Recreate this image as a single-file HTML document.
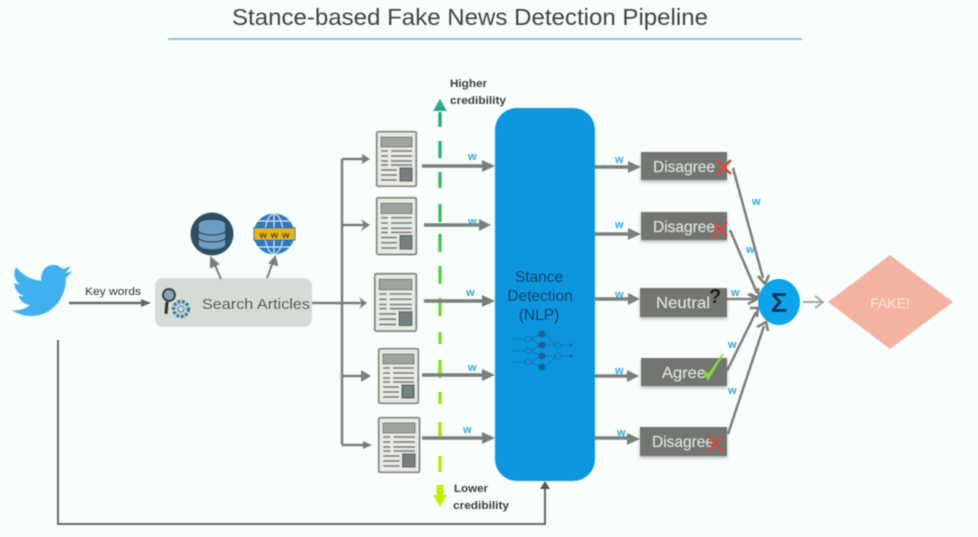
<!DOCTYPE html>
<html><head><meta charset="utf-8"><style>
html,body{margin:0;padding:0;background:#f8fefb;width:978px;height:537px;overflow:hidden}
svg{display:block}
text{font-family:"Liberation Sans",sans-serif}
</style></head><body>
<svg width="978" height="537" viewBox="0 0 978 537" xmlns="http://www.w3.org/2000/svg">
<defs>
<filter id="b" x="-5%" y="-5%" width="110%" height="110%"><feGaussianBlur stdDeviation="0.65"/></filter>
<filter id="s" x="-10%" y="-20%" width="120%" height="150%"><feDropShadow dx="0" dy="2" stdDeviation="1.5" flood-color="#888" flood-opacity=".6"/></filter>
<linearGradient id="g" x1="0" y1="100" x2="0" y2="507" gradientUnits="userSpaceOnUse"><stop offset="0" stop-color="#2ea58c"/><stop offset=".3" stop-color="#4cbb6a"/><stop offset=".55" stop-color="#7ed63a"/><stop offset="1" stop-color="#c0f000"/></linearGradient>
<g id="doc">
<rect x="0.75" y="0.75" width="39.5" height="54.5" rx="1.5" fill="#e8ebe5" stroke="#84887f" stroke-width="1.8"/>
<rect x="5" y="6" width="31" height="10" fill="#a0a49f" stroke="#6e726e" stroke-width=".9"/>
<g stroke="#7e817e" stroke-width="1.7"><path d="M5 20H12M15 20H36M5 25H12M15 25H36M5 30H12M15 30H36M5 34H12M15 34H36M5 39H21M5 44H21M5 49H21"/></g>
<rect x="24" y="37" width="12" height="13" fill="#758080" stroke="#5e6262" stroke-width="1.2"/>
</g>
</defs>
<rect width="978" height="537" fill="#f8fefb"/>
<g filter="url(#b)">
<text x="232" y="25" font-size="23" fill="#3c4442" textLength="476" lengthAdjust="spacingAndGlyphs">Stance-based Fake News Detection Pipeline</text>
<rect x="168" y="38" width="634" height="2" fill="#88bbe2"/>

<!-- twitter -->
<path transform="translate(12 259) scale(2.5 2.62)" d="M23.953 4.57a10 10 0 01-2.825.775 4.958 4.958 0 002.163-2.723c-.951.555-2.005.959-3.127 1.184a4.92 4.92 0 00-8.384 4.482C7.69 8.095 4.067 6.13 1.64 3.162a4.822 4.822 0 00-.666 2.475c0 1.71.87 3.213 2.188 4.096a4.904 4.904 0 01-2.228-.616v.06a4.923 4.923 0 003.946 4.827 4.996 4.996 0 01-2.212.085 4.936 4.936 0 004.604 3.417 9.867 9.867 0 01-6.102 2.105c-.39 0-.779-.023-1.17-.067a13.995 13.995 0 007.557 2.209c9.053 0 13.998-7.496 13.998-13.985 0-.21 0-.42-.015-.63A9.935 9.935 0 0024 4.59z" fill="#3fb0ee"/>

<!-- key words -->
<text x="85" y="295" font-size="11" fill="#333" textLength="56" lengthAdjust="spacingAndGlyphs">Key words</text>
<path d="M69 303H143" stroke="#636b66" stroke-width="2.500" fill="none"/><path d="M141 299L151 303L141 307z" fill="#636b66"/>

<!-- search box -->
<rect x="155" y="278" width="157" height="49" rx="8" fill="#d6dbd5"/>
<text x="202" y="309" font-size="15" fill="#36403f" textLength="108" lengthAdjust="spacingAndGlyphs">Search Articles</text>
<circle cx="169" cy="295" r="6" fill="#8ea4b5" stroke="#23404f" stroke-width="2.200"/>
<path d="M167 302L166 314" stroke="#333" stroke-width="3.500"/>
<circle cx="181" cy="309" r="7.500" fill="#c0d5df" stroke="#2f7a9c" stroke-width="3.500" stroke-dasharray="3 1.500"/>
<circle cx="181" cy="309" r="3" fill="#d6dbd5" stroke="#2f7a9c"/>

<!-- db & www -->
<circle cx="212" cy="234" r="21.500" fill="#2f4f62"/>
<path d="M199 224a13 4 0 0 1 26 0v21a13 4 0 0 1-26 0z" fill="#6d9cc4"/>
<path d="M199 231a13 4 0 0 0 26 0M199 238a13 4 0 0 0 26 0" stroke="#2f4f62" stroke-width="1.500" fill="none"/>
<circle cx="274" cy="234" r="20.500" fill="#2a7bc0"/>
<g fill="none" stroke="#cfe3f0" stroke-width="1"><ellipse cx="274" cy="234" rx="9" ry="20"/><path d="M274 214V254M258 221H290M258 247H290"/></g>
<rect x="254" y="228" width="41" height="12" fill="#e4b512" stroke="#2a6a90"/>
<text x="274.500" y="238" font-size="9.500" font-weight="bold" fill="#333" text-anchor="middle" textLength="30">www</text>
<g stroke="#7a7f7b" stroke-width="2" fill="#7a7f7b">
<path d="M221 279L214 263" fill="none"/><path d="M211 258L218 264L211 267z"/>
<path d="M267 278L273 262" fill="none"/><path d="M275 257L277 265L270 263z"/>
</g>

<!-- tree connectors -->
<g stroke="#7a7f7b" stroke-width="2.500" fill="none">
<path d="M312 303H342"/>
<path d="M342 159V445"/>
<path d="M342 159H365"/>
<path d="M342 225H366"/>
<path d="M342 303H364"/>
<path d="M342 376H368"/>
<path d="M342 445H368"/>
</g>
<g fill="#7a7f7b">
<path d="M362 154L370 159L362 164z"/>
<path d="M361 219L370 225L361 231L364 225z"/>
<path d="M359 297L367 303L359 309L362 303z"/>
<path d="M361 370L371 376L361 382z"/>
<path d="M363 441L372 445L363 449z"/>
</g>

<!-- docs -->
<use href="#doc" x="376" y="131"/>
<use href="#doc" transform="translate(376 197) scale(1 1.04)"/>
<use href="#doc" transform="translate(374 273) scale(1.05 1.05)"/>
<use href="#doc" transform="translate(378 348)"/>
<use href="#doc" transform="translate(378 417) scale(1.03 1)"/>

<!-- credibility dashed -->
<path d="M440 112V127M440 141V158M440 172V188M440 204V222M440 234V252M440 266V284M440 298V316M440 332V344M440 360V378M440 392V404M440 422V440M440 456V472" stroke="url(#g)" stroke-width="3.500" fill="none"/>
<path d="M440 99L447 111H433z" fill="#2ea58c"/>
<path d="M440 507L433 495H436.500V485H443.500V495H447z" fill="#c4ef00"/>
<text x="450" y="87" font-size="11" font-weight="bold" fill="#3a3f3d" textLength="37" lengthAdjust="spacingAndGlyphs">Higher</text>
<text x="450" y="104" font-size="11" font-weight="bold" fill="#3a3f3d" textLength="56" lengthAdjust="spacingAndGlyphs">credibility</text>
<text x="454" y="492" font-size="11" font-weight="bold" fill="#3a3f3d" textLength="34" lengthAdjust="spacingAndGlyphs">Lower</text>
<text x="453" y="509" font-size="11" font-weight="bold" fill="#3a3f3d" textLength="56" lengthAdjust="spacingAndGlyphs">credibility</text>

<!-- doc → NLP arrows -->
<g stroke="#7a7f7b" stroke-width="3.500" fill="none">
<path d="M422 166H484"/><path d="M424 225H482"/><path d="M424 301H484"/><path d="M422 375H484"/><path d="M422 438H484"/>
</g>
<g fill="#7a7f7b">
<path d="M482 160L495 166L482 172z"/><path d="M479 219L491 225L479 231z"/><path d="M482 295L495 301L482 307z"/><path d="M482 369L495 375L482 381z"/><path d="M482 432L495 438L482 444z"/>
</g>
<g font-size="11" font-weight="bold" fill="#34a7dc">
<text x="468" y="160">w</text><text x="468" y="225">w</text><text x="466" y="296">w</text><text x="468" y="371">w</text><text x="463" y="433">w</text>
</g>

<!-- NLP -->
<rect x="495" y="108" width="100" height="373" rx="22" fill="#0a96dd"/>
<g font-size="15.500" fill="#0a2f55" text-anchor="middle">
<text x="539" y="282">Stance</text><text x="540" y="301">Detection</text><text x="539" y="320">(NLP)</text>
</g>
<g stroke="#1a6aa8" stroke-width=".8" fill="none">
<path d="M513 339H526M513 351H526M513 362H526M530 339L541 334M530 339L541 345M530 351L541 345M530 351L541 356M530 362L541 356M530 362L541 367M545 334L556 345M545 345L556 345M545 356L556 356M545 367L556 356M560 345H571M560 356H571"/>
<circle cx="528" cy="339" r="3"/><circle cx="528" cy="351" r="3"/><circle cx="528" cy="362" r="3"/><circle cx="558" cy="345" r="3"/><circle cx="558" cy="356" r="3"/>
</g>
<g fill="#1a5f9c"><circle cx="542" cy="334" r="3.500"/><circle cx="542" cy="345" r="3.500"/><circle cx="542" cy="356" r="3.500"/><circle cx="542" cy="367" r="3.500"/><circle cx="571" cy="345" r="1.500"/><circle cx="571" cy="356" r="1.500"/></g>

<!-- feedback line -->
<path d="M58 340V524H545V488" stroke="#636b66" stroke-width="2" fill="none"/>
<path d="M545 481L550 489H540z" fill="#555c58"/>

<!-- NLP → boxes -->
<g stroke="#7a7f7b" stroke-width="3.500" fill="none">
<path d="M595 167H632"/><path d="M595 234H632"/><path d="M595 299H632"/><path d="M595 376H632"/><path d="M595 438H632"/>
</g>
<g fill="#7a7f7b">
<path d="M628 161L641 167L628 173z"/><path d="M628 228L641 234L628 240z"/><path d="M628 293L640 299L628 305z"/><path d="M627 370L639 376L627 382z"/><path d="M627 433L640 439L627 445z"/>
</g>
<g font-size="11" font-weight="bold" fill="#34a7dc">
<text x="615" y="163">w</text><text x="615" y="228">w</text><text x="615" y="298">w</text><text x="615" y="374">w</text><text x="617" y="436">w</text>
</g>

<!-- boxes -->
<g fill="#73766f" filter="url(#s)">
<rect x="641" y="152" width="86" height="28"/>
<rect x="641" y="212" width="86" height="28"/>
<rect x="640" y="288" width="87" height="29"/>
<rect x="641" y="358" width="86" height="28"/>
<rect x="640" y="427" width="87" height="29"/>
</g>
<g font-size="16" fill="#dfe3dd">
<text x="653" y="172" textLength="62" lengthAdjust="spacingAndGlyphs">Disagree</text>
<text x="653" y="232" textLength="62" lengthAdjust="spacingAndGlyphs">Disagree</text>
<text x="656" y="308" textLength="54" lengthAdjust="spacingAndGlyphs">Neutral</text>
<text x="662" y="378" textLength="44" lengthAdjust="spacingAndGlyphs">Agree</text>
<text x="652" y="447" textLength="62" lengthAdjust="spacingAndGlyphs">Disagree</text>
</g>
<g stroke="#d0483f" stroke-width="2.500" fill="none">
<path d="M716 160L731 174M731 160L716 175"/>
<path d="M712 222L727 236M727 222L712 238"/>
<path d="M708 436L722 451M722 436L708 451"/>
</g>
<text x="709" y="303" font-size="20" font-weight="bold" fill="#111">?</text>
<path d="M703 372L708 379L723 354L709 374z" fill="#7fdb3a" stroke="#7fdb3a" stroke-width="1.500"/>

<!-- to sigma -->
<g stroke="#7a7f7b" stroke-width="2.500" fill="none">
<path d="M733 168L763 278"/>
<path d="M730 230L757 293"/>
<path d="M727 299H755"/>
<path d="M727 371L756 312"/>
<path d="M728 434L764 326"/>
</g>
<g stroke="#7a7f7b" stroke-width="2.500" fill="none">
<path d="M758 276L765 284L769 275"/>
<path d="M750 294L759 298L758 288"/>
<path d="M748 294L757 299L748 304"/>
<path d="M750 308L758 308L757 317"/>
<path d="M757 327L766 322L768 331"/>
</g>
<g font-size="11" font-weight="bold" fill="#34a7dc">
<text x="752" y="205">w</text><text x="746" y="253">w</text><text x="731" y="296">w</text><text x="728" y="348">w</text><text x="728" y="394">w</text>
</g>
<ellipse cx="779" cy="302" rx="21" ry="23" fill="#0ba4ea"/>
<text x="779" y="312" font-size="28" font-weight="bold" fill="#0f2f55" text-anchor="middle">Σ</text>
<path d="M803 302H821M815 296L823 302L815 308" stroke="#a2a8a4" stroke-width="2" fill="none"/>
<path d="M890 255L953 302L890 349L828 302z" fill="#f3b3a1"/>
<text x="890" y="308" font-size="14" fill="#f8e6dd" text-anchor="middle">FAKE!</text>
</g>
</svg>
</body></html>
